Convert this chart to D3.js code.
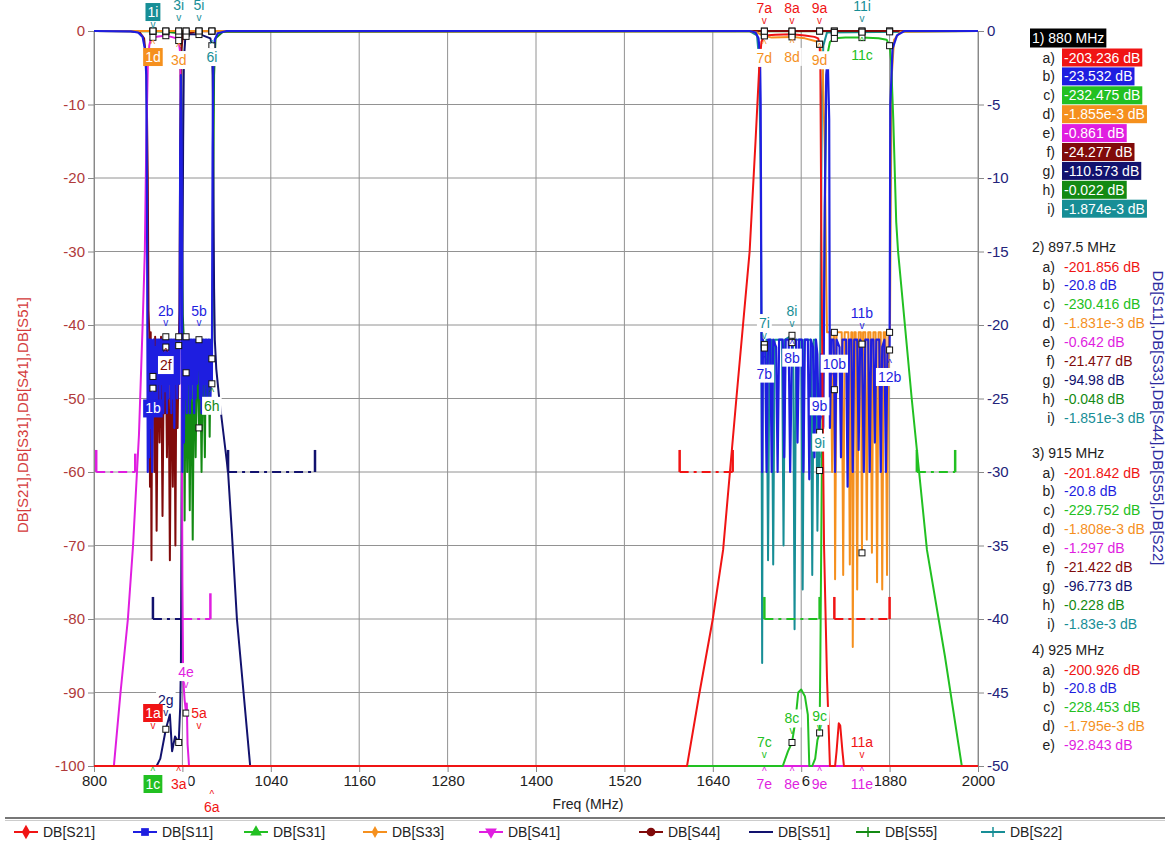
<!DOCTYPE html>
<html>
<head>
<meta charset="utf-8">
<script src="https://cdn.jsdelivr.net/npm/d3@7"></script>
<style>
  html, body { margin: 0; padding: 0; background: #fff; }
  svg { display: block; font-family: "Liberation Sans", Arial, sans-serif; }
</style>
</head>
<body>
<svg id="chart" width="1169" height="848"></svg>
<script>
// ── Datos: [freq MHz, dB] ──
// eje izquierdo
const s21 = [[800,-205],[880,-203.2],[897.5,-201.9],[915,-201.8],[925,-200.9],[960,-198],[1100,-185],[1300,-165],[1450,-140],[1560,-118],[1605,-100],[1622,-90],[1640,-80],[1654,-70.6],[1672,-50],[1690,-30],[1698,-15],[1703,-5],[1706,-1.5],[1710,-0.6],[1725,-0.5],[1747.5,-0.45],[1765,-0.6],[1778,-0.8],[1783,-1],[1785,-1.8],[1786,-5],[1787.5,-30],[1789,-50],[1791,-70],[1795,-88],[1799,-100],[1803,-103],[1806,-101],[1808,-98],[1811,-94.2],[1813,-94.5],[1816,-98],[1818,-100.5],[1830,-103],[1842.5,-102],[1880,-106],[2000,-115]];
const s31 = [[800,-235],[880,-232.5],[897.5,-230.4],[915,-229.8],[925,-228.5],[1000,-220],[1300,-185],[1550,-150],[1680,-125],[1710,-108],[1730,-101],[1735,-100],[1742,-98],[1747.5,-96.8],[1752,-94],[1756,-90],[1760,-89.6],[1765,-90.5],[1769,-93],[1771,-100],[1775,-101],[1779,-99],[1782,-96.5],[1785,-95.5],[1786,-85],[1788,-60],[1790,-45],[1792,-25],[1794,-8],[1796,-3],[1799,-1.5],[1805,-1],[1820,-0.9],[1842.5,-0.9],[1865,-1],[1876,-1.2],[1880,-2],[1882,-4],[1885,-12],[1889,-26],[1891.5,-30],[1910,-50],[1930.7,-70.6],[1955,-85],[1978,-100],[2000,-112]];
const s41 = [[800,-130],[815,-118],[827,-100],[836,-90],[846,-80],[853,-70],[861,-55],[866,-40],[869,-30],[871,-15],[873,-5],[875,-2],[877,-1.1],[880,-0.86],[890,-0.7],[897.5,-0.64],[905,-0.8],[912,-1],[915,-1.3],[917,-3],[918,-12],[919,-45],[920,-75],[921,-88],[923,-91],[925,-92.8],[926,-91.5],[927,-97],[929,-104],[960,-115],[1100,-125],[1500,-118],[1700,-108],[1710,-103],[1747.5,-101],[1785,-104],[1842.5,-103],[2000,-125]];
const s51 = [[800,-130],[860,-115],[870,-112],[880,-110.6],[885,-104],[890,-99],[897.5,-95],[903,-93],[906,-98],[910,-96],[915,-96.8],[917,-92],[918,-86],[919,-60],[920,-35],[921,-15],[922,-4],[924,-0.8],[930,-0.4],[945,-0.5],[958,-1],[960,-2],[961,-6],[962,-20],[963,-35],[964,-42],[966,-46],[970,-50],[976,-55],[982,-60],[987,-68],[994,-80],[1003,-90],[1012,-100],[1020,-106],[2000,-130]];
// eje derecho
const s11 = [[800,0],[850,-0.02],[860,-0.1],[866,-0.4],[869,-1.2],[871,-3],[872,-12],[873,-30],[874,-21],[875,-29],[876,-21],[877,-27],[878,-21],[879,-30],[880,-23.5],[881,-21],[882,-26],[883,-21.5],[884,-25],[885,-21],[886,-26],[887,-21],[888,-24],[889,-21],[890,-25.5],[891,-21],[892,-24],[893,-21],[894,-26],[895,-21],[896,-24.5],[897.5,-20.8],[899,-26],[900,-21],[901,-25],[902,-21],[903,-24],[904,-21],[905,-26],[906,-21],[907,-25],[908,-21],[909,-27],[910,-21],[911,-24],[912,-21],[913,-25],[914,-21],[915,-20.8],[916,-24],[917,-8],[918,-3],[919,-8],[920,-30],[921,-21],[922,-28],[923,-21],[924,-25],[925,-20.8],[926,-26],[927,-21],[928,-24],[929,-21],[930,-26],[931,-21],[932,-25],[933,-21],[934,-24],[935,-21],[936,-26],[937,-21],[938,-25],[939,-21],[940,-24],[941,-21],[942.5,-21],[944,-25],[945,-21],[946,-26],[947,-21],[948,-24],[949,-21],[950,-25],[951,-21],[952,-24],[953,-21],[954,-26],[955,-21],[956,-24],[957,-21],[958,-25],[959,-22],[960,-24],[961,-8],[962,-2.5],[964,-0.6],[968,-0.15],[980,0],
  [1690,0],[1698,-0.1],[1702,-0.5],[1704,-1.5],[1705,-5],[1706,-19],[1707,-30],[1708,-21],[1711,-21.5],[1713,-30],[1715,-21],[1718,-21],[1720,-30],[1722,-21],[1726,-21.5],[1728,-30],[1730,-21],[1735,-21],[1737,-29],[1739,-21],[1743,-21],[1745,-30],[1747.5,-21.2],[1753,-21],[1755,-28],[1757,-21],[1761,-21],[1763,-30],[1765,-21],[1769,-21],[1771,-30.5],[1773,-21],[1776,-21.5],[1778,-29],[1780,-21],[1782,-22],[1784,-28],[1785,-27.3],[1787,-22],[1790,-27],[1792,-12],[1794,-3],[1796,-1.8],[1798,-6],[1799,-27],[1801,-21],[1804,-21],[1805,-24.4],[1806,-30],[1808,-21],[1812,-21.5],[1814,-29],[1816,-21],[1821,-21],[1823,-31],[1825,-21],[1828,-21],[1830,-30],[1832,-21],[1836,-21],[1838,-28.5],[1840,-21],[1842.5,-21.3],[1845,-30],[1847,-21],[1851,-21],[1853,-30],[1855,-21],[1858,-21],[1860,-28],[1862,-21],[1866,-21],[1868,-30],[1870,-21.5],[1873,-21],[1875,-30],[1877,-22],[1879,-21.5],[1880,-21.7],[1881,-5],[1884,-1.2],[1890,-0.3],[1900,0],[2000,0]];
const s33 = [[800,0],[880,-0.002],[1690,-0.02],[1700,-0.1],[1707,-0.3],[1720,-0.45],[1747.5,-0.4],[1765,-0.5],[1780,-0.7],[1785,-0.9],[1789,-2],[1792,-8],[1794,-17],[1795,-20.5],[1800,-20.5],[1802,-30],[1804,-20.5],[1805,-20.5],[1806,-37.3],[1808,-20.5],[1815,-20.5],[1817,-37],[1819,-20.5],[1824,-20.5],[1826,-36.3],[1828,-20.5],[1829,-20.5],[1830,-41.9],[1832,-20.5],[1834,-20.5],[1836,-38],[1838,-20.5],[1841,-20.5],[1842.5,-35.5],[1844,-20.5],[1847,-20.5],[1849,-34.6],[1851,-20.5],[1854,-20.5],[1856,-35.5],[1858,-20.5],[1861,-20.5],[1863,-37.5],[1865,-20.5],[1868,-20.5],[1870,-38],[1872,-20.5],[1874.5,-20.5],[1876.5,-37],[1878.5,-20.5],[1880.5,-20.5],[1881.5,-12],[1883,-3],[1886,-0.6],[1895,-0.05],[2000,0]];
const s44 = [[800,0],[850,-0.01],[862,-0.1],[868,-0.5],[871,-2],[873,-10],[874,-19],[875,-20.5],[876,-31],[877,-20.5],[878,-36],[879,-22],[880,-24.3],[881,-21],[882,-30],[883,-20.8],[885,-34],[887,-21],[889,-28],[891,-20.8],[893,-33],[895,-21],[896,-26],[897.5,-21.5],[899,-29],[901,-21],[903,-36],[905,-21],[907,-31],[909,-21],[910.5,-35],[912,-21],[913.5,-27],[915,-21.4],[916,-19],[917,-8],[918,-1.5],[921,-0.2],[940,-0.02],[2000,0]];
const s55 = [[800,0],[860,-0.01],[880,-0.022],[897.5,-0.048],[910,-0.12],[915,-0.228],[917,-1],[918.5,-5],[919.5,-15],[920.5,-19.3],[921.5,-20.5],[923,-33.3],[924.5,-21],[926.5,-30],[928,-21],[930,-32.6],[932,-21],[934,-34.6],[936,-21],[938,-29],[940,-21],[942.5,-27],[944,-21],[946,-30],[948,-21],[950.5,-29],[952,-21],[954,-26],[955.5,-21],[957,-27.6],[958.5,-21],[960,-22.3],[961,-19.5],[962,-10],[963,-3],[965,-0.5],[975,-0.05],[2000,0]];
const s22 = [[800,0],[880,-0.002],[1690,-0.01],[1700,-0.3],[1703,-2],[1705,-10],[1706,-20],[1707,-43],[1708,-21.5],[1711,-21.6],[1713,-21],[1715,-36],[1717,-21],[1720,-21],[1722,-36.3],[1724,-21],[1734,-21],[1736,-35],[1738,-21],[1747.5,-20.7],[1749,-21],[1751,-40.7],[1753,-21],[1760,-21],[1762,-38],[1764,-21],[1773,-21],[1775,-37],[1777,-21],[1780,-21],[1782,-34],[1784,-25],[1785,-29.9],[1786,-20],[1788,-5],[1790,-1],[1795,-0.1],[2000,0]];

// máscaras (eje izquierdo)
const masks = [
  ["S41", [[803,-57],[803,-60],[856,-60],[856,-57.5]]],
  ["S51", [[880,-77],[880,-80],[918,-80]]],
  ["S41", [[921,-80],[958,-80],[958,-76.5]]],
  ["S51", [[982,-57],[982,-60],[1100,-60],[1100,-57]]],
  ["S21", [[1595,-57],[1595,-60],[1667,-60],[1667,-57]]],
  ["S31", [[1710,-77],[1710,-80],[1785,-80],[1785,-77]]],
  ["S21", [[1805,-77],[1805,-80],[1880,-80],[1880,-77]]],
  ["S31", [[1917,-57],[1917,-60],[1969,-60],[1969,-57]]]
];

const seriesKeys   = ["S21", "S11", "S31", "S33", "S41", "S44", "S51", "S55", "S22"];
const seriesLetter = ["a", "b", "c", "d", "e", "f", "g", "h", "i"];
const seriesColors = ["#f01414", "#1e1ee0", "#22c022", "#f5901e", "#e01ee0", "#800a0a", "#12126e", "#138a13", "#178e96"];
const seriesAxis   = ["L", "R", "L", "R", "L", "R", "L", "R", "R"];
const seriesData   = [s21, s11, s31, s33, s41, s44, s51, s55, s22];
const seriesSymbol = ["diamond", "square", "triangle", "diamondSmall", "triangleDown", "octagon", "none", "plus", "plus"];

const xTicks  = [800, 920, 1040, 1160, 1280, 1400, 1520, 1640, 1760, 1880, 2000];
const yTicksL = [0, -10, -20, -30, -40, -50, -60, -70, -80, -90, -100];
const yTicksR = [0, -5, -10, -15, -20, -25, -30, -35, -40, -45, -50];

const markerFreqs = [880, 897.5, 915, 925, 942.5, 960, 1710, 1747.5, 1785, 1805, 1842.5, 1880];
// [marcador, traza, lado, distancia]
const markerLabels = [
  [1,"i","up",19],[3,"i","up",26],[5,"i","up",26],
  [1,"d","dn",26],[3,"d","dn",29],[6,"i","dn",26],
  [2,"b","up",26],[5,"b","up",29],[2,"f","dn",18],[1,"b","dn",32],[6,"h","dn",47],
  [4,"e","up",41],[2,"g","up",29],[1,"a","up",53],[5,"a","up",53],
  [1,"c","dn",18],[3,"a","dn",18],[6,"a","dn",41],
  [7,"a","up",27],[8,"a","up",26],[9,"a","up",36],[11,"i","up",26],
  [7,"d","dn",22],[8,"d","dn",20],[9,"d","dn",16],[11,"c","dn",17],
  [7,"i","up",25],[7,"b","dn",29],[8,"i","up",24],[8,"b","dn",15],[11,"b","up",31],
  [10,"b","up",26],[12,"b","dn",27],[9,"b","up",26],[9,"i","up",28],
  [7,"c","up",24],[8,"c","up",24],[9,"c","up",17],[11,"a","up",24],
  [7,"e","dn",18],[8,"e","dn",18],[9,"e","dn",18],[11,"e","dn",18]
];

const readHeads = ["1) 880 MHz", "2) 897.5 MHz", "3) 915 MHz", "4) 925 MHz"];
const readVals = [
  ["-203.236 dB","-23.532 dB","-232.475 dB","-1.855e-3 dB","-0.861 dB","-24.277 dB","-110.573 dB","-0.022 dB","-1.874e-3 dB"],
  ["-201.856 dB","-20.8 dB","-230.416 dB","-1.831e-3 dB","-0.642 dB","-21.477 dB","-94.98 dB","-0.048 dB","-1.851e-3 dB"],
  ["-201.842 dB","-20.8 dB","-229.752 dB","-1.808e-3 dB","-1.297 dB","-21.422 dB","-96.773 dB","-0.228 dB","-1.83e-3 dB"],
  ["-200.926 dB","-20.8 dB","-228.453 dB","-1.795e-3 dB","-92.843 dB"]
];

// ── Layout ──
const P = { l: 94, r: 978, t: 31, b: 766 };
const svg = d3.select("#chart");
const x  = d3.scaleLinear().domain([800, 2000]).range([P.l, P.r]);
const yL = d3.scaleLinear().domain([-100, 0]).range([P.b, P.t]).clamp(true);
const yR = d3.scaleLinear().domain([-50, 0]).range([P.b, P.t]).clamp(true);

const series = seriesKeys.map((k, i) => ({
  key: k, letter: seriesLetter[i], color: seriesColors[i],
  y: seriesAxis[i] === "L" ? yL : yR, data: seriesData[i], symbol: seriesSymbol[i]
}));
const byKey = Object.fromEntries(series.map(s => [s.key, s]));
const byLetter = Object.fromEntries(series.map(s => [s.letter, s]));

function valueAt(data, f) {
  const i = d3.bisector(d => d[0]).left(data, f);
  if (i <= 0) return data[0][1];
  if (i >= data.length) return data[data.length - 1][1];
  const a = data[i - 1], b = data[i];
  if (b[0] === f) return b[1];
  return a[1] + (b[1] - a[1]) * (f - a[0]) / (b[0] - a[0]);
}

// ── Grid ──
const grid = svg.append("g");
grid.selectAll("line.gx").data(xTicks).join("line").attr("class", "gx")
  .attr("x1", d => x(d)).attr("x2", d => x(d)).attr("y1", P.t).attr("y2", P.b)
  .attr("stroke", "#929292").attr("stroke-width", 1);
grid.selectAll("line.gy").data(yTicksL).join("line").attr("class", "gy")
  .attr("x1", P.l).attr("x2", P.r).attr("y1", d => yL(d)).attr("y2", d => yL(d))
  .attr("stroke", "#929292").attr("stroke-width", 1);

// ── Ejes ──
function styleAxis(g, color) {
  g.select(".domain").attr("stroke", "#888");
  g.selectAll(".tick line").attr("stroke", "#888");
  g.selectAll(".tick text").attr("fill", color).attr("font-size", 15)
    .attr("font-family", "'Liberation Sans', Arial, sans-serif");
}
const plain = d => String(d);   // guion normal, no signo menos unicode
svg.append("g").attr("transform", `translate(${P.l},0)`)
  .call(d3.axisLeft(yL).tickValues(yTicksL).tickSize(6).tickSizeOuter(0).tickFormat(plain))
  .call(g => styleAxis(g, "#b03a3a"));
svg.append("g").attr("transform", `translate(${P.r},0)`)
  .call(d3.axisRight(yR).tickValues(yTicksR).tickSize(6).tickSizeOuter(0).tickFormat(plain))
  .call(g => styleAxis(g, "#23237a"));
svg.append("g").attr("transform", `translate(0,${P.b})`)
  .call(d3.axisBottom(x).tickValues(xTicks).tickSize(6).tickSizeOuter(0).tickFormat(plain))
  .call(g => styleAxis(g, "#222"));

svg.append("text").attr("x", 588).attr("y", 804).attr("text-anchor", "middle")
  .attr("dominant-baseline", "central").attr("font-size", 14).attr("fill", "#222").text("Freq (MHz)");
svg.append("text").attr("transform", "translate(22,415) rotate(-90)").attr("text-anchor", "middle")
  .attr("dominant-baseline", "central").attr("font-size", 15).attr("fill", "#d43a3a")
  .text("DB[S21],DB[S31],DB[S41],DB[S51]");
svg.append("text").attr("transform", "translate(1158,418) rotate(90)").attr("text-anchor", "middle")
  .attr("dominant-baseline", "central").attr("font-size", 15).attr("fill", "#2b2ba0")
  .text("DB[S11],DB[S33],DB[S44],DB[S55],DB[S22]");

// ── Trazas (orden inverso: S21 encima) ──
const traceG = svg.append("g");
[...series].reverse().forEach(s => {
  traceG.append("path").datum(s.data)
    .attr("fill", "none").attr("stroke", s.color)
    .attr("stroke-width", s.key === "S11" ? 2.2 : 2).attr("stroke-linejoin", "round")
    .attr("d", d3.line().x(d => x(d[0])).y(d => s.y(d[1])));
});

// máscaras: tramos horizontales punteados, extremos verticales sólidos
const maskSegs = masks.flatMap(([k, pts]) =>
  d3.pairs(pts).map(([a, b]) => ({ k, a, b, vert: a[0] === b[0] })));
svg.append("g").selectAll("line").data(maskSegs).join("line")
  .attr("x1", d => x(d.a[0])).attr("y1", d => yL(d.a[1]))
  .attr("x2", d => x(d.b[0])).attr("y2", d => yL(d.b[1]))
  .attr("stroke", d => byKey[d.k].color).attr("stroke-width", d => d.vert ? 2.5 : 2.2)
  .attr("stroke-dasharray", d => d.vert ? null : "9,5,3,5");

// ── Marcadores ──
const mkG = svg.append("g");
series.forEach(s => {
  markerFreqs.forEach(f => {
    const v = valueAt(s.data, f);
    const dom = s.y.domain();
    if (v < dom[0] || v > dom[1] + 0.001) return;
    mkG.append("rect")
      .attr("x", x(f) - 3).attr("y", s.y(v) - 3).attr("width", 6).attr("height", 6)
      .attr("fill", "#fff").attr("stroke", "#111").attr("stroke-width", 1);
  });
});

const lblG = svg.append("g").attr("font-size", 14);
markerLabels.forEach(([num, letter, side, dist]) => {
  const s = byLetter[letter];
  const f = markerFreqs[num - 1];
  const px = x(f), py = s.y(valueAt(s.data, f));
  const ty = side === "up" ? py - dist : py + dist;
  const gy = side === "up" ? ty + 12 : ty - 13;
  const active = num === 1;
  lblG.append("text").attr("x", px).attr("y", gy).attr("text-anchor", "middle")
    .attr("dominant-baseline", "central").attr("font-size", 10).attr("fill", s.color)
    .text(side === "up" ? "v" : "^");
  const g = lblG.append("g");
  const rect = g.append("rect");
  const t = g.append("text").attr("x", px).attr("y", ty).attr("text-anchor", "middle")
    .attr("dominant-baseline", "central").attr("fill", active ? "#fff" : s.color)
    .text(`${num}${letter}`);
  const w = t.node().getComputedTextLength() + 4;
  rect.attr("x", px - w / 2).attr("y", ty - 9).attr("width", w).attr("height", 18)
    .attr("fill", active ? s.color : "#fff");
});

// ── Panel de lectura ──
const panelTop = [38, 247, 453, 650];
const rowStep = 18.9;
const panel = svg.append("g").attr("font-size", 14);
readHeads.forEach((h, pi) => {
  const hy = panelTop[pi];
  const ht = panel.append("text").attr("x", 1032).attr("y", hy).attr("dominant-baseline", "central")
    .attr("fill", pi === 0 ? "#fff" : "#222").text(h);
  if (pi === 0) {
    const w = ht.node().getComputedTextLength();
    panel.insert("rect", "text").attr("x", 1030).attr("y", hy - 9.5).attr("width", w + 4).attr("height", 19).attr("fill", "#000");
  }
  readVals[pi].forEach((val, ri) => {
    const s = series[ri];
    const ry = hy + 19.5 + ri * rowStep;
    panel.append("text").attr("x", 1055).attr("y", ry).attr("text-anchor", "end")
      .attr("dominant-baseline", "central").attr("fill", "#222").text(`${s.letter})`);
    const vt = panel.append("text").attr("x", 1064).attr("y", ry).attr("dominant-baseline", "central")
      .attr("fill", pi === 0 ? "#fff" : s.color).text(val);
    if (pi === 0) {
      const w = vt.node().getComputedTextLength();
      panel.insert("rect", "text").attr("x", 1062).attr("y", ry - 9).attr("width", w + 4).attr("height", 18).attr("fill", s.color);
    }
  });
});

// ── Leyenda ──
svg.append("line").attr("x1", 5).attr("x2", 1165).attr("y1", 818).attr("y2", 818).attr("stroke", "#777").attr("stroke-width", 2);
svg.append("line").attr("x1", 5).attr("x2", 1165).attr("y1", 820.5).attr("y2", 820.5).attr("stroke", "#ccc").attr("stroke-width", 1);
const legendX = [43, 162, 273, 392, 508, 668, 778, 885, 1010];
const leg = svg.append("g").selectAll("g").data(series).join("g")
  .attr("transform", (d, i) => `translate(${legendX[i]},832)`);
leg.append("line").attr("x1", -29).attr("x2", -5).attr("stroke", d => d.color).attr("stroke-width", 2);
leg.each(function(d) {
  const g = d3.select(this);
  const sym = {
    diamond: d3.symbolDiamond, square: d3.symbolSquare, triangle: d3.symbolTriangle,
    diamondSmall: d3.symbolDiamond, triangleDown: d3.symbolTriangle, octagon: d3.symbolCircle
  }[d.symbol];
  if (sym) {
    g.append("path").attr("transform", `translate(-17,0)${d.symbol === "triangleDown" ? " rotate(180)" : ""}`)
      .attr("d", d3.symbol(sym, d.symbol === "diamondSmall" ? 40 : 60)()).attr("fill", d.color);
  } else if (d.symbol === "plus") {
    g.append("line").attr("x1", -17).attr("x2", -17).attr("y1", -5).attr("y2", 5).attr("stroke", d.color).attr("stroke-width", 1.5);
  }
});
leg.append("text").attr("x", 0).attr("y", 0).attr("dominant-baseline", "central")
  .attr("font-size", 14).attr("fill", "#222").text(d => `DB[${d.key}]`);
</script>
</body>
</html>
